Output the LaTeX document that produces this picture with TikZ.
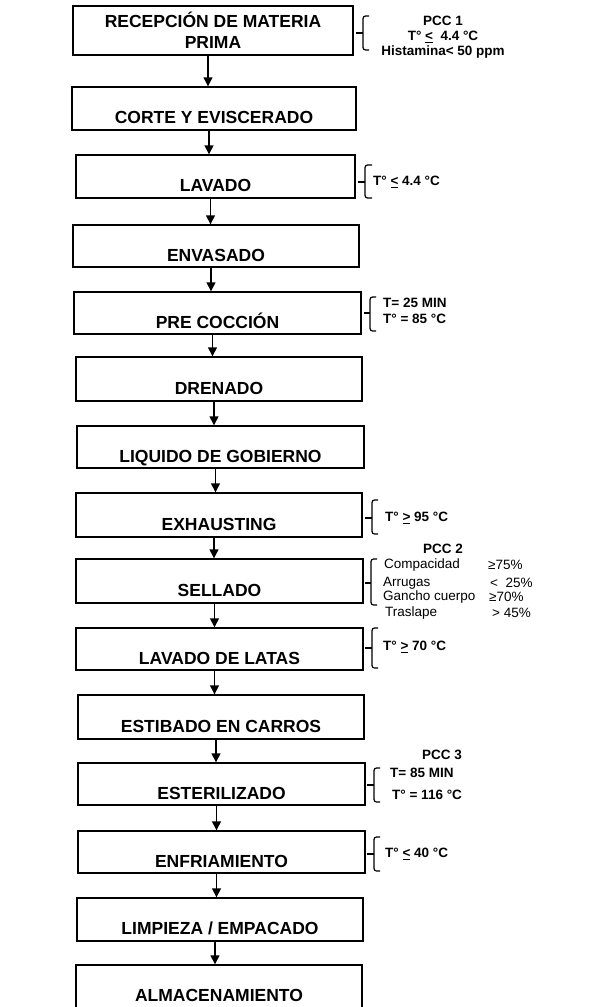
\documentclass[tikz,border=0pt]{standalone}
\usepackage{fontspec}
\setmainfont{Liberation Sans}
\usetikzlibrary{arrows.meta}
\begin{document}
\begin{tikzpicture}[x=1pt,y=-1pt,
  box/.style={draw, line width=1.4pt, fill=white, inner sep=0pt,
    font=\bfseries\fontsize{17.5}{21}\selectfont},
  low/.style={text height=32pt, text depth=2pt},
  arr/.style={line width=1.4pt, -{Triangle[width=9pt,length=9pt]}},
  brk/.style={line width=1.2pt, rounded corners=2.5pt},
  ann/.style={font=\bfseries\fontsize{13.5}{15}\selectfont, inner sep=0pt},
  annw/.style={ann, anchor=west},
  annr/.style={font=\fontsize{13.5}{15}\selectfont, inner sep=0pt, anchor=west}]
\useasboundingbox (0,0) rectangle (599,1007);
\clip (0,0) rectangle (599,1007);
\fill[white] (0,0) rectangle (599,1007);

% boxes
\node[box, minimum width=280pt, minimum height=49pt, align=center] (b1) at (213,30.5) {RECEPCIÓN DE MATERIA\\PRIMA};
\node[box, low, minimum width=284pt, minimum height=43pt] (b2) at (214,108.5) {CORTE Y EVISCERADO};
\node[box, low, minimum width=279pt, minimum height=43pt] (b3) at (215.5,176.5) {LAVADO};
\node[box, low, minimum width=286pt, minimum height=42pt] (b4) at (216,246) {ENVASADO};
\node[box, low, minimum width=287pt, minimum height=42pt] (b5) at (217.5,313) {PRE COCCIÓN};
\node[box, low, minimum width=286pt, minimum height=44pt] (b6) at (219,379) {DRENADO};
\node[box, low, minimum width=287pt, minimum height=42pt] (b7) at (220.5,447) {LIQUIDO DE GOBIERNO};
\node[box, low, minimum width=286pt, minimum height=44pt] (b8) at (219,515) {EXHAUSTING};
\node[box, low, minimum width=287pt, minimum height=44pt] (b9) at (219.5,581) {SELLADO};
\node[box, low, minimum width=287pt, minimum height=42pt] (b10) at (219.5,649) {LAVADO DE LATAS};
\node[box, low, minimum width=286pt, minimum height=44pt] (b11) at (221,717) {ESTIBADO EN CARROS};
\node[box, low, minimum width=287pt, minimum height=42pt] (b12) at (221.5,784) {ESTERILIZADO};
\node[box, low, minimum width=287pt, minimum height=42pt] (b13) at (221.5,852) {ENFRIAMIENTO};
\node[box, low, minimum width=286pt, minimum height=43pt] (b14) at (220,919.5) {LIMPIEZA / EMPACADO};
\node[box, minimum width=286pt, minimum height=60pt] (b15) at (219,995) {ALMACENAMIENTO};

% arrows
\foreach \a/\b in {b1/b2,b2/b3,b3/b4,b4/b5,b5/b6,b6/b7,b7/b8,b8/b9,b9/b10,b10/b11,b11/b12,b12/b13,b13/b14,b14/b15}
  \draw[arr] ([xshift=-5pt]\a.south) -- ([xshift=-5pt]\a.south |- \b.north);

% brackets
\draw[brk] (369,16) -- (363,16) -- (363,50) -- (369,50);
\draw[brk] (356,33) -- (363,33);
\draw[brk] (372,165) -- (365,165) -- (365,198) -- (372,198);
\draw[brk] (358,182) -- (365,182);
\draw[brk] (376,297) -- (370,297) -- (370,331) -- (376,331);
\draw[brk] (364,313) -- (370,313);
\draw[brk] (378,500) -- (372,500) -- (372,534) -- (378,534);
\draw[brk] (365,518) -- (372,518);
\draw[brk] (377,559) -- (371,559) -- (371,605) -- (377,605);
\draw[brk] (365,583) -- (371,583);
\draw[brk] (378,628) -- (372,628) -- (372,668) -- (378,668);
\draw[brk] (365,648) -- (372,648);
\draw[brk] (380,768) -- (374,768) -- (374,802) -- (380,802);
\draw[brk] (367,785) -- (374,785);
\draw[brk] (380,837) -- (374,837) -- (374,871) -- (380,871);
\draw[brk] (367,854) -- (374,854);

% annotations
\node[ann, align=center] (p1) at (443,37) {PCC 1\\T° \underline{<}~ 4.4 °C\\Histamina< 50 ppm};
\node[annw] (p3) at (373,182) {T° \underline{<} 4.4 °C};
\node[annw, align=left, font=\bfseries\fontsize{13.5}{16}\selectfont] (p5) at (383,311) {T= 25 MIN\\T° = 85 °C};
\node[annw] (p8) at (385,518) {T° \underline{>} 95 °C};
\node[ann] (p9) at (443,549) {PCC 2};
\node[annr] (p9a) at (384,565) {Compacidad};
\node[annr] (p9b) at (383,583) {Arrugas};
\node[annr] (p9c) at (383,597) {Gancho cuerpo};
\node[annr] (p9d) at (385,613) {Traslape};
\node[annr] (p9e) at (488,565) {≥75\%};
\node[annr] (p9f) at (490,583) {<~ 25\%};
\node[annr] (p9g) at (489,597) {≥70\%};
\node[annr] (p9h) at (492,613) {>~45\%};
\node[annw] (p10) at (383,647) {T° \underline{>} 70 °C};
\node[ann] (p12) at (442,755) {PCC 3};
\node[annw] (p12a) at (390,773) {T= 85 MIN};
\node[annw] (p12b) at (392,795) {T° = 116 °C};
\node[annw] (p13) at (385,854) {T° \underline{<} 40 °C};
\end{tikzpicture}
\end{document}
